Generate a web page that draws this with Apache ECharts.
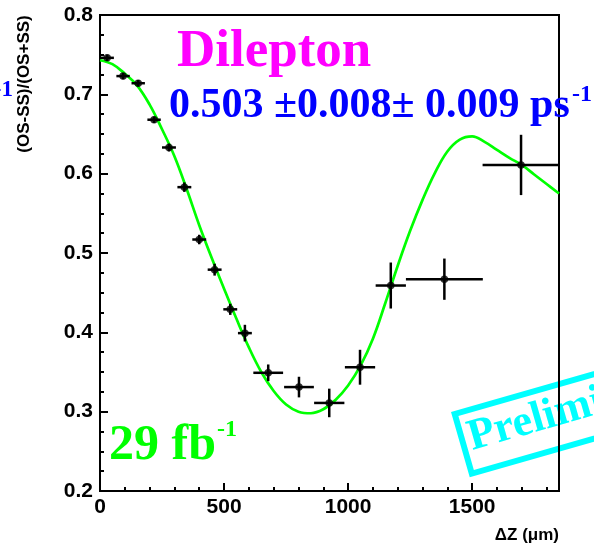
<!DOCTYPE html>
<html><head><meta charset="utf-8">
<script src="https://cdn.jsdelivr.net/npm/echarts@6/dist/echarts.min.js"></script>
<style>html,body{margin:0;padding:0;background:#fff}#c{width:594px;height:543px}</style>
</head><body><div id="c"></div>
<script>
// Data
const dz      = [29, 93, 154, 218, 278, 340, 400, 462, 525, 584, 678, 802, 924, 1048, 1172, 1388, 1697];
const asym    = [0.746, 0.723, 0.714, 0.668, 0.633, 0.583, 0.517, 0.479, 0.429, 0.399, 0.349, 0.331, 0.311, 0.356, 0.459, 0.467, 0.611];
const dzErr   = [27, 27, 27, 27, 28, 28, 28, 28, 28, 28, 60, 60, 61, 61, 61, 155, 155];
const asymErr = [0.004, 0.004, 0.004, 0.004, 0.005, 0.006, 0.006, 0.0075, 0.007, 0.0105, 0.0105, 0.013, 0.018, 0.022, 0.029, 0.026, 0.038];

const fitX = [0, 50, 100, 150, 200, 250, 300, 350, 400, 450, 500, 550, 600, 650, 700, 750, 800, 850, 900, 950,
              1000, 1050, 1100, 1150, 1200, 1250, 1300, 1350, 1400, 1450, 1500, 1550, 1600, 1650, 1700, 1750, 1800, 1850];
const fitY = [0.743, 0.738, 0.726, 0.711, 0.687, 0.656, 0.622, 0.580, 0.535, 0.494, 0.455, 0.417, 0.381, 0.350, 0.326, 0.309, 0.300, 0.298, 0.303, 0.315,
              0.333, 0.358, 0.392, 0.437, 0.484, 0.528, 0.567, 0.601, 0.628, 0.643, 0.647, 0.640, 0.630, 0.620, 0.611, 0.599, 0.587, 0.575];

const xTickLabels = ['0', '500', '1000', '1500'];
const yTickLabels = ['0.2', '0.3', '0.4', '0.5', '0.6', '0.7', '0.8'];

const SANS = '"Liberation Sans", Arial, sans-serif';
const SERIF = '"Liberation Serif", "Times New Roman", serif';

const chart = echarts.init(document.getElementById('c'), null, {renderer: 'canvas'});

const tickStyle = {color: '#000', width: 2};
const option = {
  animation: false,
  backgroundColor: '#fff',
  grid: {left: 100, top: 15, width: 459, height: 476, show: true, borderColor: '#000', borderWidth: 2, backgroundColor: 'transparent'},
  xAxis: [{
    type: 'value', min: 0, max: 1850, interval: 500, position: 'bottom',
    axisLine: {show: true, lineStyle: {color: '#000', width: 2}},
    axisTick: {show: true, inside: true, length: 8, lineStyle: tickStyle},
    minorTick: {show: false},
    splitLine: {show: false},
    axisLabel: {
      show: true, showMaxLabel: false, margin: 6,
      fontFamily: SANS, fontWeight: 'bold', fontSize: 21, color: '#000',
      formatter: v => { const i = Math.round(v / 500); return xTickLabels[i] !== undefined ? xTickLabels[i] : ''; }
    }
  }, {
    type: 'value', min: 0, max: 1850, interval: 100, position: 'bottom', gridIndex: 0,
    axisLine: {show: false},
    axisTick: {show: true, inside: true, length: 4, lineStyle: tickStyle},
    splitLine: {show: false},
    axisLabel: {show: false}
  }],
  yAxis: {
    type: 'value', min: 0.2, max: 0.8, interval: 0.1,
    axisLine: {show: true, lineStyle: {color: '#000', width: 2}},
    axisTick: {show: true, inside: true, length: 8, lineStyle: tickStyle},
    minorTick: {show: true, splitNumber: 4, length: 4, lineStyle: tickStyle},
    splitLine: {show: false},
    axisLabel: {
      margin: 7, fontFamily: SANS, fontWeight: 'bold', fontSize: 21, color: '#000',
      formatter: v => { const i = Math.round((v - 0.2) * 10); return yTickLabels[i] !== undefined ? yTickLabels[i] : ''; }
    }
  },
  series: [{
    type: 'line', name: 'fit', xAxisIndex: 0,
    data: fitX.map((x, i) => [x, fitY[i]]),
    smooth: 0.4, showSymbol: false, symbol: 'none', z: 1,
    lineStyle: {color: '#00ff00', width: 2.7}
  }, {
    type: 'custom', name: 'errors', xAxisIndex: 0, z: 3, clip: true,
    data: dz.map((x, i) => [x, asym[i], dzErr[i], asymErr[i]]),
    renderItem: (params, api) => {
      const x = api.value(0), y = api.value(1), ex = api.value(2), ey = api.value(3);
      const l = api.coord([x - ex, y]), r = api.coord([x + ex, y]);
      const t = api.coord([x, y + ey]), b = api.coord([x, y - ey]);
      const st = {stroke: '#000', lineWidth: 2.5};
      return {type: 'group', children: [
        {type: 'line', shape: {x1: l[0], y1: l[1], x2: r[0], y2: r[1]}, style: st},
        {type: 'line', shape: {x1: t[0], y1: t[1], x2: b[0], y2: b[1]}, style: st}
      ]};
    }
  }, {
    type: 'scatter', name: 'data', xAxisIndex: 0, z: 4,
    data: dz.map((x, i) => [x, asym[i]]),
    symbol: 'circle', symbolSize: 7.5,
    itemStyle: {color: '#000'}
  }],
  graphic: [
    {type: 'text', x: 24, y: 84, rotation: Math.PI / 2,
     style: {text: '(OS-SS)/(OS+SS)', font: 'bold 17px ' + SANS, fill: '#000', align: 'center', verticalAlign: 'middle'}},
    {type: 'text', x: 559, y: 535,
     style: {text: 'ΔZ (μm)', font: 'bold 17px ' + SANS, fill: '#000', align: 'right', verticalAlign: 'middle'}},
    {type: 'text', x: 13, y: 90,
     style: {text: '-1', font: 'bold 23px ' + SERIF, fill: '#0000ff', align: 'right', verticalAlign: 'middle'}},
    {type: 'text', x: 177, y: 52,
     style: {text: 'Dilepton', font: 'bold 53px ' + SERIF, fill: '#ff00ff', align: 'left', verticalAlign: 'middle'}},
    {type: 'text', x: 169, y: 106,
     style: {text: '0.503 \u00b10.008\u00b1 0.009 ps', font: 'bold 42px ' + SERIF, fill: '#0000ff', align: 'left', verticalAlign: 'middle'}},
    {type: 'text', x: 572, y: 94.5,
     style: {text: '-1', font: 'bold 24px ' + SERIF, fill: '#0000ff', align: 'left', verticalAlign: 'middle'}},
    {type: 'text', x: 109, y: 446,
     style: {text: '29 fb', font: 'bold 50px ' + SERIF, fill: '#00ff00', align: 'left', verticalAlign: 'middle'}},
    {type: 'text', x: 217, y: 429.5,
     style: {text: '-1', font: 'bold 24px ' + SERIF, fill: '#00ff00', align: 'left', verticalAlign: 'middle'}},
    {type: 'group', x: 451, y: 412, rotation: 16 * Math.PI / 180, z: -1,
     children: [
       {type: 'rect', shape: {x: 3, y: 3, width: 400, height: 62}, style: {fill: 'transparent', stroke: '#00ffff', lineWidth: 6}, z: -1},
       {type: 'text', x: 10, y: 31, z: -1,
        style: {text: 'Preliminary', font: 'bold 44px ' + SERIF, fill: '#00ffff', align: 'left', verticalAlign: 'middle'}}
     ]}
  ]
};
chart.setOption(option);
</script></body></html>
